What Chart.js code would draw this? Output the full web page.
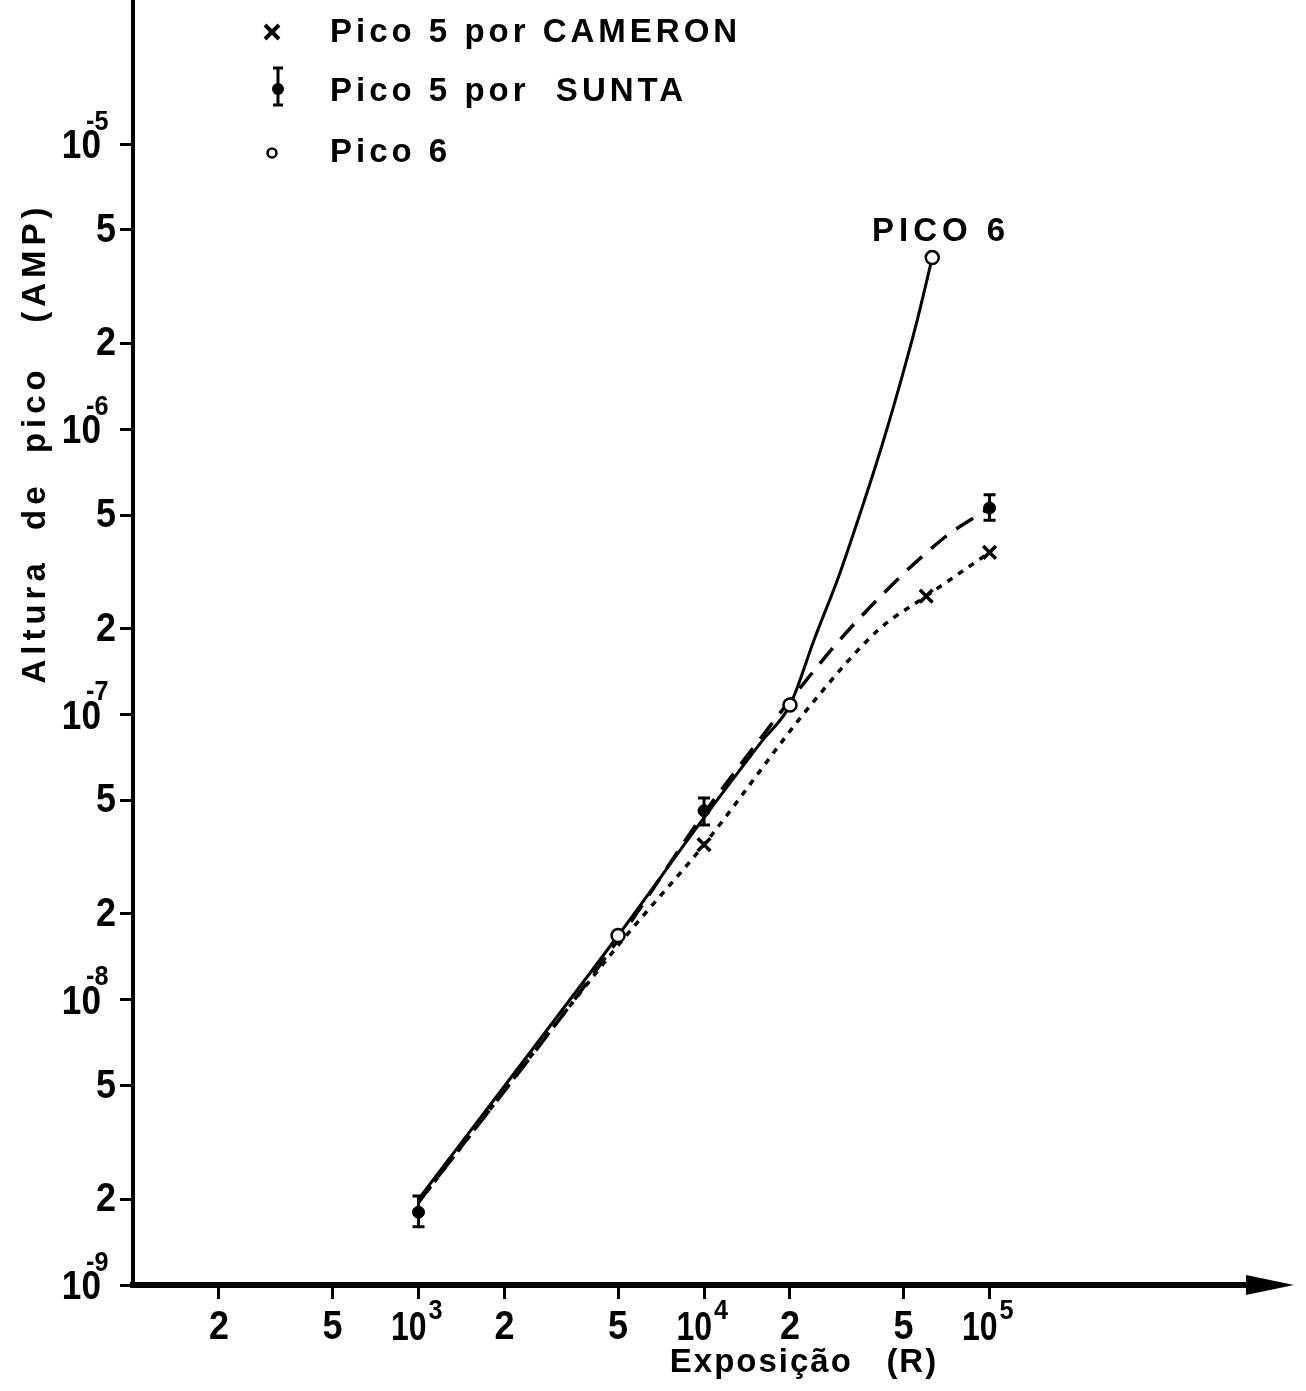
<!DOCTYPE html>
<html>
<head>
<meta charset="utf-8">
<script src="https://cdn.jsdelivr.net/npm/chart.js@4.4.1/dist/chart.umd.min.js"></script>
<style>
html, body { margin: 0; padding: 0; background: #fff; }
#wrap { width: 1306px; height: 1391px; }
</style>
</head>
<body>
<div id="wrap"><canvas id="chart" width="1306" height="1391"></canvas></div>
<script>
// Tick values (log-log, 1-2-5 per decade)
const xTicks = [200, 500, 1e3, 2e3, 5e3, 1e4, 2e4, 5e4, 1e5];
const yTicks = [1e-9, 2e-9, 5e-9, 1e-8, 2e-8, 5e-8, 1e-7, 2e-7, 5e-7, 1e-6, 2e-6, 5e-6, 1e-5];

// Measured points
const cameronX = [1e4, 6e4, 1e5];
const cameronY = [3.5e-8, 2.6e-7, 3.7e-7];

const suntaX = [1e3, 1e4, 1e5];
const suntaY = [1.8e-9, 4.6e-8, 5.3e-7];
const suntaLow = [1.6e-9, 4.1e-8, 4.8e-7];
const suntaHigh = [2.05e-9, 5.1e-8, 5.9e-7];

const pico6X = [5e3, 2e4, 6.3e4];
const pico6Y = [1.68e-8, 1.08e-7, 4.0e-6];

// Drawn curves
const pico6CurveX = [1e3, 5e3, 1e4, 1.6e4, 2e4, 2.43e4, 2.98e4, 3.56e4, 4.21e4, 4.91e4, 5.59e4, 6.3e4];
const pico6CurveY = [2.0e-9, 1.68e-8, 4.35e-8, 8.1e-8, 1.08e-7, 1.83e-7, 3.1e-7, 5.24e-7, 8.85e-7, 1.5e-6, 2.43e-6, 4.0e-6];

const suntaCurveX = [1e3, 5e3, 1e4, 1.6e4, 2.07e4, 3.3e4, 6.8e4, 1e5];
const suntaCurveY = [1.95e-9, 1.62e-8, 4.5e-8, 8.4e-8, 1.17e-7, 2.04e-7, 4.1e-7, 5.3e-7];

const cameronCurveX = [1e3, 5e3, 1e4, 2.4e4, 4.1e4, 6e4, 1e5];
const cameronCurveY = [1.95e-9, 1.55e-8, 3.5e-8, 1.1e-7, 1.99e-7, 2.6e-7, 3.7e-7];

const INK = '#000';
const FONT = '"Liberation Sans", Arial, sans-serif';

function pts(xs, ys) {
    return xs.map((x, i) => ({ x: x, y: ys[i] }));
}

function drawCross(ctx, x, y, r) {
    ctx.beginPath();
    ctx.moveTo(x - r, y - r); ctx.lineTo(x + r, y + r);
    ctx.moveTo(x + r, y - r); ctx.lineTo(x - r, y + r);
    ctx.stroke();
}

function drawErrorBar(ctx, x, yTop, yBot, cap) {
    ctx.beginPath();
    ctx.moveTo(x, yTop); ctx.lineTo(x, yBot);
    ctx.moveTo(x - cap, yTop); ctx.lineTo(x + cap, yTop);
    ctx.moveTo(x - cap, yBot); ctx.lineTo(x + cap, yBot);
    ctx.stroke();
}

// slightly condensed text, like the lettering of the original
function narrowText(ctx, text, x, y, align, sx) {
    ctx.save();
    ctx.translate(x, y);
    ctx.scale(sx, 1);
    ctx.textAlign = align;
    ctx.fillText(text, 0, 0);
    ctx.restore();
}

function mantissa(v) {
    const e = Math.floor(Math.log10(v) + 1e-9);
    return { m: Math.round(v / Math.pow(10, e)), e: e };
}

const decorPlugin = {
    id: 'decor',
    afterDatasetsDraw(chart) {
        const ctx = chart.ctx;
        const xs = chart.scales.x, ys = chart.scales.y;
        ctx.save();
        ctx.strokeStyle = INK;
        ctx.lineWidth = 3;
        suntaX.forEach((x, i) => {
            drawErrorBar(ctx, xs.getPixelForValue(x), ys.getPixelForValue(suntaHigh[i]),
                ys.getPixelForValue(suntaLow[i]), 6);
        });
        ctx.restore();
    },
    afterDraw(chart) {
        const ctx = chart.ctx;
        const xs = chart.scales.x, ys = chart.scales.y;
        const area = chart.chartArea;
        ctx.save();
        ctx.fillStyle = INK;
        ctx.strokeStyle = INK;

        // arrow at end of the x axis
        ctx.lineWidth = 6;
        ctx.beginPath();
        ctx.moveTo(area.right - 2, area.bottom);
        ctx.lineTo(1270, area.bottom);
        ctx.stroke();
        ctx.beginPath();
        ctx.moveTo(1294, area.bottom);
        ctx.lineTo(1246, area.bottom - 10);
        ctx.lineTo(1246, area.bottom + 10);
        ctx.closePath();
        ctx.fill();

        // y tick labels
        ctx.textBaseline = 'middle';
        yTicks.forEach(v => {
            const p = ys.getPixelForValue(v);
            const t = mantissa(v);
            if (t.m === 1) {
                ctx.font = 'bold 40px ' + FONT;
                narrowText(ctx, '10', 101, p + 3, 'right', 0.88);
                ctx.font = 'bold 28px ' + FONT;
                narrowText(ctx, String(t.e), 86, p - 22, 'left', 0.9);
            } else {
                ctx.font = 'bold 40px ' + FONT;
                narrowText(ctx, String(t.m), 116, p + 1, 'right', 0.9);
            }
        });

        // x tick labels
        xTicks.forEach(v => {
            const p = xs.getPixelForValue(v);
            const t = mantissa(v);
            if (t.m === 1) {
                ctx.font = 'bold 40px ' + FONT;
                narrowText(ctx, '10', p + 8, 1329, 'right', 0.8);
                ctx.font = 'bold 28px ' + FONT;
                narrowText(ctx, String(t.e), p + 10, 1311, 'left', 0.9);
            } else {
                ctx.font = 'bold 40px ' + FONT;
                narrowText(ctx, String(t.m), p, 1328, 'center', 0.9);
            }
        });

        // axis titles
        ctx.font = 'bold 33px ' + FONT;
        ctx.letterSpacing = '2px';
        ctx.textAlign = 'center';
        ctx.fillText('Exposição   (R)', 804, 1363);

        ctx.save();
        ctx.translate(36, 443);
        ctx.rotate(-Math.PI / 2);
        ctx.letterSpacing = '5px';
        ctx.fillText('Altura  de  pico   (AMP)', 0, 0);
        ctx.restore();

        // curve label
        ctx.letterSpacing = '5px';
        ctx.textAlign = 'left';
        ctx.fillText('PICO 6', 872, 232);

        // legend
        ctx.letterSpacing = '4px';
        ctx.fillText('Pico 5 por CAMERON', 330, 33);
        ctx.fillText('Pico 5 por  SUNTA', 330, 92);
        ctx.fillText('Pico 6', 330, 153);

        ctx.lineWidth = 4;
        drawCross(ctx, 272, 32, 7);
        ctx.lineWidth = 3;
        drawErrorBar(ctx, 278, 68, 105, 5);
        ctx.beginPath();
        ctx.arc(278, 89, 6, 0, Math.PI * 2);
        ctx.fill();
        ctx.lineWidth = 2.5;
        ctx.beginPath();
        ctx.arc(272, 153, 4.5, 0, Math.PI * 2);
        ctx.stroke();

        ctx.restore();
    }
};

const ctx = document.getElementById('chart');

new Chart(ctx, {
    type: 'scatter',
    data: {
        datasets: [
            {
                label: 'Pico 6',
                data: pts(pico6X, pico6Y),
                showLine: false,
                pointStyle: 'circle',
                pointRadius: 6.5,
                pointBackgroundColor: '#fff',
                pointBorderColor: INK,
                pointBorderWidth: 2.5
            },
            {
                label: 'Pico 5 por SUNTA',
                data: pts(suntaX, suntaY),
                showLine: false,
                pointStyle: 'circle',
                pointRadius: 6,
                pointBackgroundColor: INK,
                pointBorderColor: INK,
                pointBorderWidth: 1
            },
            {
                label: 'Pico 5 por CAMERON',
                data: pts(cameronX, cameronY),
                showLine: false,
                pointStyle: 'crossRot',
                pointRadius: 9,
                pointBorderColor: INK,
                pointBorderWidth: 3.5
            },
            {
                label: 'curva Pico 6',
                data: pts(pico6CurveX, pico6CurveY),
                showLine: true,
                borderColor: INK,
                borderWidth: 3,
                pointRadius: 0,
                cubicInterpolationMode: 'monotone'
            },
            {
                label: 'curva SUNTA',
                data: pts(suntaCurveX, suntaCurveY),
                showLine: true,
                borderColor: INK,
                borderWidth: 3.5,
                borderDash: [20, 12],
                pointRadius: 0,
                cubicInterpolationMode: 'monotone'
            },
            {
                label: 'curva CAMERON',
                data: pts(cameronCurveX, cameronCurveY),
                showLine: true,
                borderColor: INK,
                borderWidth: 3.5,
                borderDash: [6, 7],
                pointRadius: 0,
                cubicInterpolationMode: 'monotone'
            }
        ]
    },
    options: {
        responsive: false,
        animation: false,
        devicePixelRatio: 1,
        layout: { autoPadding: false, padding: { top: 0, right: 44, bottom: 0, left: 0 } },
        plugins: {
            legend: { display: false },
            tooltip: { enabled: false }
        },
        scales: {
            x: {
                type: 'logarithmic',
                min: 100,
                max: 9e5,
                afterBuildTicks: scale => { scale.ticks = xTicks.map(v => ({ value: v })); },
                afterFit: scale => { scale.height = 106; },
                ticks: { display: false },
                grid: {
                    display: true,
                    drawOnChartArea: false,
                    drawTicks: true,
                    tickLength: 14,
                    tickWidth: 3,
                    tickColor: INK
                },
                border: { display: true, color: INK, width: 6 }
            },
            y: {
                type: 'logarithmic',
                min: 1e-9,
                max: 3.2e-5,
                afterBuildTicks: scale => { scale.ticks = yTicks.map(v => ({ value: v })); },
                afterFit: scale => { scale.width = 133; },
                ticks: { display: false },
                grid: {
                    display: true,
                    drawOnChartArea: false,
                    drawTicks: true,
                    tickLength: 13,
                    tickWidth: 3,
                    tickColor: INK
                },
                border: { display: true, color: INK, width: 4 }
            }
        }
    },
    plugins: [decorPlugin]
});
</script>
</body>
</html>
